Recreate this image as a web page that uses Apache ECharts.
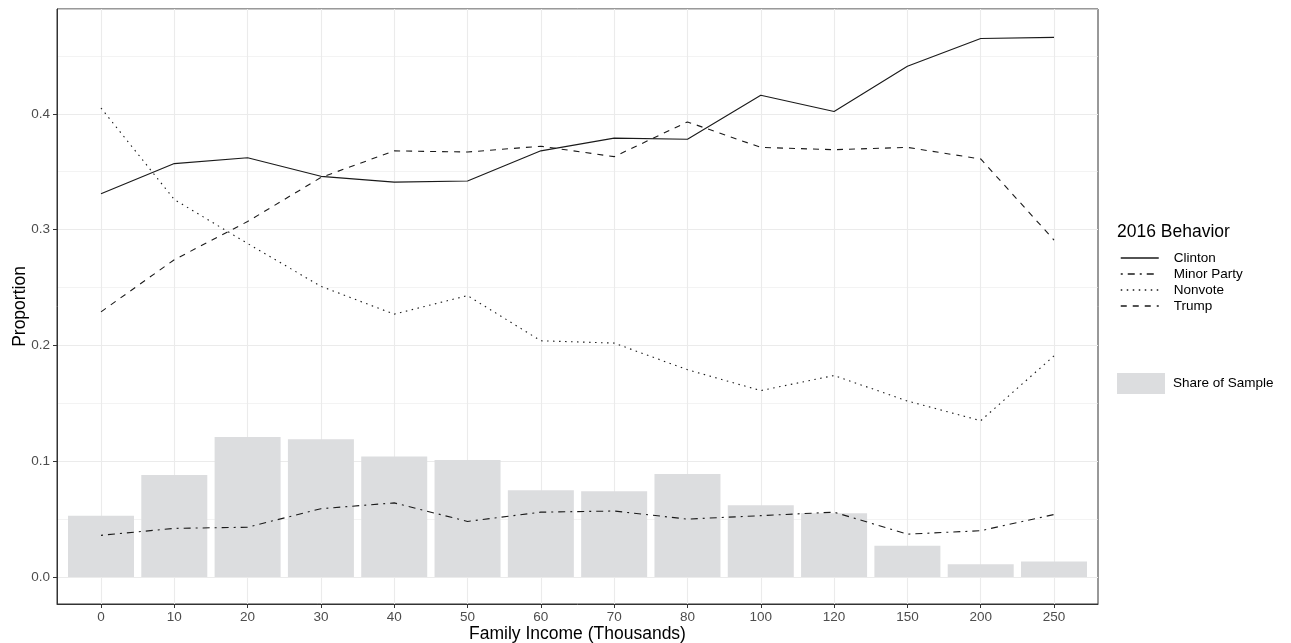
<!DOCTYPE html>
<html><head><meta charset="utf-8">
<script src="https://cdn.jsdelivr.net/npm/echarts@6/dist/echarts.min.js"></script>
<style>html,body{margin:0;padding:0;background:#fff}#c{width:1291px;height:643px}</style>
</head><body><div id="c"></div>
<script>
// ---- data ----
const incomeLabels = ['0','10','20','30','40','50','60','70','80','100','120','150','200','250'];
const shareOfSample = [0.053, 0.088, 0.121, 0.119, 0.104, 0.101, 0.075, 0.074, 0.089, 0.062, 0.055, 0.027, 0.011, 0.0135];
const clinton = [0.331, 0.357, 0.362, 0.346, 0.341, 0.342, 0.368, 0.379, 0.378, 0.416, 0.402, 0.441, 0.465, 0.466];
const minorParty = [0.036, 0.042, 0.043, 0.059, 0.064, 0.048, 0.056, 0.057, 0.050, 0.053, 0.056, 0.037, 0.040, 0.054];
const nonvote = [0.405, 0.326, 0.288, 0.251, 0.227, 0.243, 0.204, 0.202, 0.179, 0.161, 0.174, 0.152, 0.135, 0.191];
const trump = [0.229, 0.274, 0.307, 0.345, 0.368, 0.367, 0.372, 0.363, 0.393, 0.371, 0.369, 0.371, 0.361, 0.291];
const yTickValues = [0, 0.1, 0.2, 0.3, 0.4];
const legendTitle = '2016 Behavior';
const xTitle = 'Family Income (Thousands)';
const yTitle = 'Proportion';

// ---- chart ----
const FONT = "'Liberation Sans', Arial, Helvetica, sans-serif";
const idx = incomeLabels.map((_, i) => i);
const pairs = arr => arr.map((v, i) => [i, v]);
const LINE = '#1a1a1a';
const chart = echarts.init(document.getElementById('c'), null, {renderer: 'canvas'});

function lineSeries(name, data, dash) {
  return {
    name, type: 'line', data: pairs(data), symbol: 'none', showSymbol: false,
    z: 3, animation: false, silent: true,
    lineStyle: {color: LINE, width: 1.1, type: dash, cap: 'butt'},
    itemStyle: {color: LINE}
  };
}

chart.setOption({
  animation: false,
  backgroundColor: '#ffffff',
  textStyle: {fontFamily: FONT},
  grid: {left: 57, right: 193, top: 9, bottom: 39, show: true, borderColor: '#333333', borderWidth: 1,
    backgroundColor: '#ffffff', containLabel: false, outerBoundsMode: 'none'},
  title: {text: legendTitle, left: 1117, top: 223, padding: 0,
    textStyle: {fontFamily: FONT, fontSize: 17.5, fontWeight: 'normal', color: '#000'}},
  legend: [
    {data: ['Clinton', 'Minor Party', 'Nonvote', 'Trump'], orient: 'vertical', left: 1120, top: 251, padding: 0,
     itemWidth: 38, itemHeight: 15, itemGap: 2, selectedMode: false,
     itemStyle: {color: 'rgba(0,0,0,0)', borderColor: 'rgba(0,0,0,0)', borderWidth: 0, opacity: 0},
     lineStyle: {width: 1.5},
     textStyle: {fontFamily: FONT, fontSize: 13.5, color: '#000', padding: [0, 0, 0, 10]}},
    {data: [{name: 'Share of Sample', icon: 'rect'}], orient: 'vertical', left: 1117, top: 373, padding: 0,
     itemWidth: 48, itemHeight: 21, selectedMode: false,
     textStyle: {fontFamily: FONT, fontSize: 13.5, color: '#000', padding: [0, 0, 0, 3]}}
  ],
  xAxis: {
    type: 'value', min: -0.6, max: incomeLabels.length - 1 + 0.6, splitNumber: 14, minInterval: 1, maxInterval: 1,
    name: xTitle, nameLocation: 'middle', nameGap: 21, nameMoveOverlap: false,
    nameTextStyle: {fontFamily: FONT, fontSize: 17.5, color: '#000', verticalAlign: 'top'},
    axisLine: {show: true, onZero: false, lineStyle: {color: '#333333', width: 1}},
    axisTick: {show: true, length: 4, customValues: idx, lineStyle: {color: '#333333', width: 1}},
    axisLabel: {customValues: idx, margin: 6, color: '#4D4D4D', fontFamily: FONT, fontSize: 13.5,
      formatter: v => incomeLabels[Math.round(v)]},
    splitLine: {show: true, lineStyle: {color: '#EBEBEB', width: 1.1}}
  },
  yAxis: [
    {
      type: 'value', min: -0.0233, max: 0.4905, splitNumber: 5, minInterval: 0.1, maxInterval: 0.1,
      name: yTitle, nameLocation: 'middle', nameGap: 28, nameMoveOverlap: false,
      nameTextStyle: {fontFamily: FONT, fontSize: 17.5, color: '#000'},
      axisLine: {show: true, onZero: false, lineStyle: {color: '#333333', width: 1}},
      axisTick: {show: true, length: 4, customValues: yTickValues, lineStyle: {color: '#333333', width: 1}},
      axisLabel: {customValues: yTickValues, margin: 7, color: '#4D4D4D', fontFamily: FONT, fontSize: 13.5,
        formatter: v => v.toFixed(1)},
      splitLine: {show: true, lineStyle: {color: '#EBEBEB', width: 1.1}}
    },
    {
      type: 'value', min: -0.0233, max: 0.4905, splitNumber: 10, minInterval: 0.05, maxInterval: 0.05,
      position: 'left',
      axisLine: {show: false}, axisTick: {show: false}, axisLabel: {show: false},
      splitLine: {show: true, lineStyle: {color: '#EBEBEB', width: 0.6}}
    }
  ],
  series: [
    {name: 'Share of Sample', type: 'bar', data: pairs(shareOfSample), barWidth: 66, z: 2, silent: true,
     itemStyle: {color: '#DCDDDF'}},
    lineSeries('Clinton', clinton, 'solid'),
    lineSeries('Minor Party', minorParty, [2, 5, 7, 5]),
    lineSeries('Nonvote', nonvote, [1.5, 4.5]),
    lineSeries('Trump', trump, [6, 6])
  ]
});
</script>
</body></html>
